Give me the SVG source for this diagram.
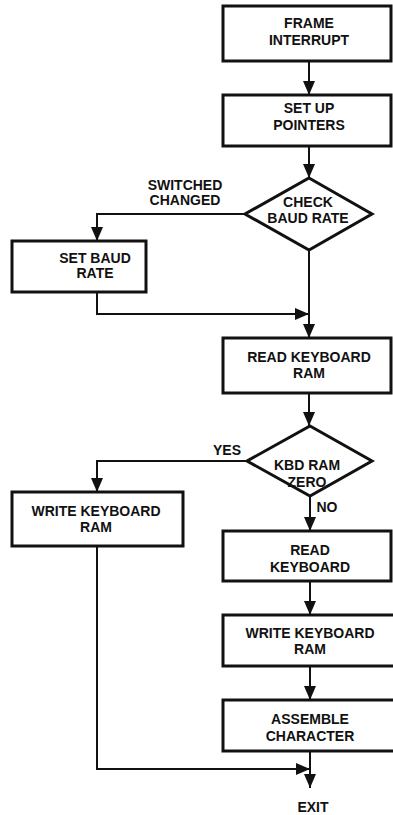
<svg xmlns="http://www.w3.org/2000/svg" width="393" height="815" viewBox="0 0 393 815">
<style>
.box{fill:#fff;stroke:#111;stroke-width:3}
.dia{fill:#fff;stroke:#111;stroke-width:3;stroke-linejoin:miter}
.t{font-family:"Liberation Sans",Arial,sans-serif;font-weight:bold;font-size:14px;fill:#111;text-anchor:middle}
.c{fill:none;stroke:#111;stroke-width:2}
</style>
<defs>
<marker id="ah" viewBox="0 0 14 12" refX="14" refY="6" markerWidth="14" markerHeight="12" markerUnits="userSpaceOnUse" orient="auto">
<path d="M0,0 L14,6 L0,12 Z" fill="#111"/>
</marker>
</defs>
<rect width="393" height="815" fill="#fff"/>
<g id="connectors">
<path class="c" d="M309,61 V95" marker-end="url(#ah)"/>
<path class="c" d="M309,146 V178" marker-end="url(#ah)"/>
<path class="c" d="M245,214 H97 V241" marker-end="url(#ah)"/>
<path class="c" d="M97,292 V314 H309" marker-end="url(#ah)"/>
<path class="c" d="M309,250 V338" marker-end="url(#ah)"/>
<path class="c" d="M309,393 V426" marker-end="url(#ah)"/>
<path class="c" d="M247,461 H97 V492" marker-end="url(#ah)"/>
<path class="c" d="M310,496 V531" marker-end="url(#ah)"/>
<path class="c" d="M310,581 V615" marker-end="url(#ah)"/>
<path class="c" d="M310,666 V700" marker-end="url(#ah)"/>
<path class="c" d="M310,751 V788" marker-end="url(#ah)"/>
<path class="c" d="M97,546 V769 H310" marker-end="url(#ah)"/>
</g>
<g id="frame_interrupt">
<rect class="box" x="223" y="6" width="168" height="55"/>
<text class="t" x="309" y="28">FRAME</text>
<text class="t" x="309" y="45">INTERRUPT</text>
</g>
<g id="set_up_pointers">
<rect class="box" x="223" y="95" width="168" height="51"/>
<text class="t" x="309" y="113">SET UP</text>
<text class="t" x="309" y="130">POINTERS</text>
</g>
<g id="check_baud_rate">
<polygon class="dia" points="309,178 372,214 309,250 245,214"/>
<text class="t" x="308" y="207">CHECK</text>
<text class="t" x="308" y="223">BAUD RATE</text>
</g>
<g id="label_switched">
<text class="t" x="185" y="190">SWITCHED</text>
<text class="t" x="185" y="205">CHANGED</text>
</g>
<g id="set_baud_rate">
<rect class="box" x="12" y="241" width="134" height="51"/>
<text class="t" x="95" y="263">SET BAUD</text>
<text class="t" x="95" y="278">RATE</text>
</g>
<g id="read_keyboard_ram">
<rect class="box" x="223" y="338" width="168" height="55"/>
<text class="t" x="309" y="362">READ KEYBOARD</text>
<text class="t" x="309" y="378">RAM</text>
</g>
<g id="kbd_ram_zero">
<polygon class="dia" points="310,426 372,461 310,496 247,461"/>
<text class="t" x="307" y="470">KBD RAM</text>
<text class="t" x="307" y="487">ZERO</text>
</g>
<g id="label_yes"><text class="t" x="227" y="455">YES</text></g>
<g id="label_no"><text class="t" x="327" y="512">NO</text></g>
<g id="write_keyboard_ram_left">
<rect class="box" x="12" y="492" width="171" height="54"/>
<text class="t" x="96" y="516">WRITE KEYBOARD</text>
<text class="t" x="96" y="532">RAM</text>
</g>
<g id="read_keyboard">
<rect class="box" x="223" y="531" width="168" height="50"/>
<text class="t" x="310" y="555">READ</text>
<text class="t" x="310" y="572">KEYBOARD</text>
</g>
<g id="write_keyboard_ram_right">
<rect class="box" x="223" y="615" width="172" height="51"/>
<text class="t" x="310" y="638">WRITE KEYBOARD</text>
<text class="t" x="310" y="654">RAM</text>
</g>
<g id="assemble_character">
<rect class="box" x="223" y="700" width="172" height="51"/>
<text class="t" x="310" y="724">ASSEMBLE</text>
<text class="t" x="310" y="741">CHARACTER</text>
</g>
<g id="exit"><text class="t" x="313" y="812">EXIT</text></g>
</svg>
